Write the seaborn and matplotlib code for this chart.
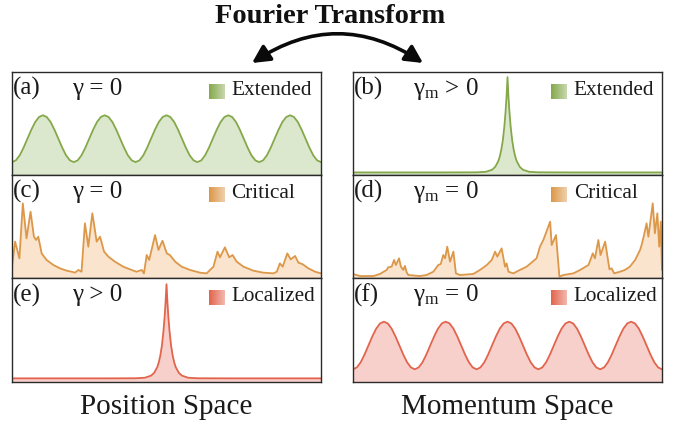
import numpy as np
import pandas as pd
import matplotlib
matplotlib.use("Agg")
import matplotlib.pyplot as plt
import seaborn as sns
from matplotlib.patches import FancyArrowPatch
from matplotlib.colors import to_rgb

# ---------------- data ----------------
# (a) extended, position space (gamma = 0)
wave_a = [0.125, 0.142, 0.191, 0.266, 0.353, 0.439, 0.514, 0.563, 0.580, 0.563, 0.514, 0.439, 0.353, 0.266, 0.191, 0.142,
          0.125, 0.142, 0.191, 0.266, 0.353, 0.439, 0.514, 0.563, 0.580, 0.563, 0.514, 0.439, 0.353, 0.266, 0.191, 0.142,
          0.125, 0.142, 0.191, 0.266, 0.353, 0.439, 0.514, 0.563, 0.580, 0.563, 0.514, 0.439, 0.353, 0.266, 0.191, 0.142,
          0.125, 0.142, 0.191, 0.266, 0.353, 0.439, 0.514, 0.563, 0.580, 0.563, 0.514, 0.439, 0.353, 0.266, 0.191, 0.142,
          0.125, 0.142, 0.191, 0.266, 0.353, 0.439, 0.514, 0.563, 0.580, 0.563, 0.514, 0.439, 0.353, 0.266, 0.191, 0.142,
          0.125]
# (f) localized, momentum space (gamma_m = 0)
wave_f = [0.122, 0.140, 0.190, 0.265, 0.352, 0.438, 0.513, 0.563, 0.580, 0.563, 0.513, 0.438, 0.352, 0.265, 0.190, 0.140,
          0.122, 0.140, 0.190, 0.265, 0.352, 0.438, 0.513, 0.563, 0.580, 0.563, 0.513, 0.438, 0.352, 0.265, 0.190, 0.140,
          0.122, 0.140, 0.190, 0.265, 0.352, 0.438, 0.513, 0.563, 0.580, 0.563, 0.513, 0.438, 0.352, 0.265, 0.190, 0.140,
          0.122, 0.140, 0.190, 0.265, 0.352, 0.438, 0.513, 0.563, 0.580, 0.563, 0.513, 0.438, 0.352, 0.265, 0.190, 0.140,
          0.122, 0.140, 0.190, 0.265, 0.352, 0.438, 0.513, 0.563, 0.580, 0.563, 0.513, 0.438, 0.352, 0.265, 0.190, 0.140,
          0.122]

# sharp peaks: (b) extended in momentum space, (e) localized in position space
peak_x = [0.0, 0.1, 0.2, 0.3, 0.4, 0.43, 0.45, 0.46, 0.47, 0.475, 0.48, 0.485, 0.49, 0.494, 0.497, 0.5,
          0.503, 0.506, 0.51, 0.515, 0.52, 0.525, 0.53, 0.54, 0.55, 0.57, 0.6, 0.7, 0.8, 0.9, 1.0]
peak_b = [0.025, 0.025, 0.025, 0.025, 0.026, 0.031, 0.051, 0.078, 0.133, 0.179, 0.246, 0.340, 0.476, 0.624, 0.767, 0.95,
          0.767, 0.624, 0.476, 0.340, 0.246, 0.179, 0.133, 0.078, 0.051, 0.031, 0.026, 0.025, 0.025, 0.025, 0.025]
peak_e = [0.035, 0.035, 0.035, 0.035, 0.036, 0.041, 0.061, 0.088, 0.142, 0.188, 0.254, 0.347, 0.482, 0.628, 0.768, 0.94,
          0.768, 0.628, 0.482, 0.347, 0.254, 0.188, 0.142, 0.088, 0.061, 0.041, 0.036, 0.035, 0.035, 0.035, 0.035]

# (c) critical, position space
crit_c_x = [0.0, 0.010, 0.024, 0.035, 0.047, 0.060, 0.071, 0.078, 0.085, 0.096, 0.112, 0.134, 0.155, 0.177, 0.193,
            0.204, 0.215, 0.225, 0.236, 0.247, 0.260, 0.274, 0.285, 0.298, 0.312, 0.333, 0.360, 0.387, 0.403, 0.420,
            0.427, 0.436, 0.444, 0.463, 0.474, 0.487, 0.501, 0.511, 0.528, 0.549, 0.576, 0.608, 0.630, 0.641, 0.652,
            0.665, 0.673, 0.689, 0.703, 0.714, 0.727, 0.749, 0.781, 0.813, 0.846, 0.857, 0.867, 0.876, 0.891, 0.902,
            0.916, 0.927, 0.941, 0.959, 0.981, 1.0]
crit_c_y = [0.110, 0.353, 0.191, 0.725, 0.385, 0.644, 0.401, 0.369, 0.401, 0.239, 0.175, 0.126, 0.094, 0.071, 0.061,
            0.052, 0.078, 0.061, 0.531, 0.304, 0.628, 0.353, 0.401, 0.256, 0.207, 0.159, 0.110, 0.078, 0.061, 0.078,
            0.045, 0.223, 0.175, 0.417, 0.272, 0.362, 0.239, 0.223, 0.159, 0.110, 0.078, 0.052, 0.045, 0.078, 0.110,
            0.256, 0.201, 0.298, 0.201, 0.223, 0.159, 0.110, 0.071, 0.052, 0.045, 0.061, 0.142, 0.110, 0.239, 0.181,
            0.214, 0.149, 0.133, 0.094, 0.061, 0.045]

# (d) critical, momentum space
crit_d_x = [0.0, 0.023, 0.066, 0.087, 0.109, 0.114, 0.125, 0.133, 0.139, 0.149, 0.155, 0.163, 0.168, 0.174, 0.179,
            0.217, 0.238, 0.260, 0.276, 0.284, 0.292, 0.298, 0.305, 0.314, 0.325, 0.333, 0.346, 0.389, 0.411, 0.433,
            0.449, 0.460, 0.467, 0.481, 0.492, 0.497, 0.503, 0.519, 0.540, 0.562, 0.594, 0.605, 0.616, 0.638, 0.643,
            0.657, 0.668, 0.681, 0.713, 0.735, 0.762, 0.776, 0.783, 0.794, 0.801, 0.816, 0.830, 0.837, 0.845, 0.864,
            0.880, 0.896, 0.913, 0.929, 0.934, 0.942, 0.950, 0.956, 0.970, 0.977, 0.985, 0.991, 0.996, 1.0]
crit_d_y = [0.039, 0.019, 0.019, 0.039, 0.078, 0.104, 0.110, 0.175, 0.126, 0.191, 0.110, 0.078, 0.117, 0.052, 0.029,
            0.019, 0.029, 0.061, 0.126, 0.136, 0.223, 0.191, 0.304, 0.159, 0.256, 0.045, 0.029, 0.039, 0.078, 0.126,
            0.175, 0.256, 0.207, 0.288, 0.110, 0.142, 0.061, 0.045, 0.078, 0.110, 0.191, 0.304, 0.369, 0.547, 0.320,
            0.417, 0.013, 0.029, 0.045, 0.078, 0.126, 0.239, 0.191, 0.369, 0.223, 0.353, 0.084, 0.094, 0.045, 0.061,
            0.078, 0.110, 0.175, 0.272, 0.320, 0.417, 0.531, 0.401, 0.725, 0.434, 0.628, 0.304, 0.547, 0.078]

panel_letters = ["(a)", "(b)", "(c)", "(d)", "(e)", "(f)"]
panel_params = ["γ = 0", "γ$_\\mathrm{m}$ > 0", "γ = 0", "γ$_\\mathrm{m}$ = 0", "γ > 0", "γ$_\\mathrm{m}$ = 0"]
phase_labels = ["Extended", "Extended", "Critical", "Critical", "Localized", "Localized"]
column_titles = ["Position Space", "Momentum Space"]
top_title = "Fourier Transform"

wave_pos = np.arange(len(wave_a)) / (len(wave_a) - 1)

# ---------------- style ----------------
sns.set_theme(style="white")
plt.rcParams["font.family"] = ["Liberation Serif", "DejaVu Serif"]
plt.rcParams["mathtext.fontset"] = "custom"
plt.rcParams["mathtext.rm"] = "Liberation Serif"
plt.rcParams["mathtext.it"] = "Liberation Serif"

GREEN = ("#84a84a", "#dce8cd")
ORANGE = ("#dc9748", "#fae4cd")
RED = ("#e2644c", "#f7d0cb")

panels = [
    (wave_pos, wave_a, GREEN),
    (peak_x, peak_b, GREEN),
    (crit_c_x, crit_c_y, ORANGE),
    (crit_d_x, crit_d_y, ORANGE),
    (peak_x, peak_e, RED),
    (wave_pos, wave_f, RED),
]

W, H = 681, 423
fig = plt.figure(figsize=(W / 100, H / 100), dpi=100)
fig.patch.set_facecolor("white")

col_left = [12, 353]
col_w = 309
row_tops = [72, 175, 278]
row_bots = [175, 278, 382]

for i, (xs, ys, (lc, fc)) in enumerate(panels):
    r, c = divmod(i, 2)
    left = col_left[c] / W
    bottom = 1 - row_bots[r] / H
    height = (row_bots[r] - row_tops[r]) / H
    ax = fig.add_axes([left, bottom, col_w / W, height])
    df = pd.DataFrame({"x": xs, "y": ys})
    ax.fill_between(df["x"], df["y"], 0, color=fc, lw=0, zorder=1)
    sns.lineplot(data=df, x="x", y="y", ax=ax, color=lc, lw=1.3, zorder=2, sort=False)
    # gradient legend square
    c0 = np.array(to_rgb(lc))
    c1 = np.array([1.0, 1.0, 1.0]) * 0.55 + c0 * 0.45
    t = np.linspace(0, 1, 40)[:, None]
    grad = (c0[None, :] * (1 - t) + c1[None, :] * t)[None, :, :]
    px0 = 0.636 if c == 0 else 0.641
    ax.imshow(grad, extent=(px0, px0 + 0.049, 0.738, 0.874), aspect="auto", zorder=5,
              interpolation="bilinear")
    ax.set_xlim(0, 1)
    ax.set_ylim(0, 1)
    ax.set_xticks([])
    ax.set_yticks([])
    ax.set_xlabel("")
    ax.set_ylabel("")
    ax.set_facecolor("white")
    for s in ax.spines.values():
        s.set_color("#2a2a2a")
        s.set_linewidth(1.0)
    ax.text(0.003, 0.777, panel_letters[i], transform=ax.transAxes, fontsize=18,
            ha="left", va="baseline", color="#1a1a1a")
    ax.text(0.194, 0.777, panel_params[i], transform=ax.transAxes, fontsize=18,
            ha="left", va="baseline", color="#1a1a1a")
    ax.text(px0 + 0.073, 0.777, phase_labels[i], transform=ax.transAxes, fontsize=15.3,
            ha="left", va="baseline", color="#1a1a1a")

for c, title in enumerate(column_titles):
    fig.text((col_left[c] + col_w / 2) / W, 1 - 413.5 / H, title, fontsize=21,
             ha="center", va="baseline", color="#1a1a1a")

fig.text(330 / W, 1 - 22.7 / H, top_title, fontsize=20.5, fontweight="bold",
         ha="center", va="baseline", color="#111111")

arrow = FancyArrowPatch((252 / W, 1 - 63 / H), (423 / W, 1 - 63 / H),
                        transform=fig.transFigure,
                        connectionstyle="arc3,rad=-0.33",
                        arrowstyle="<|-|>,head_length=0.7,head_width=0.36",
                        mutation_scale=15, lw=2.6, color="#0a0a0a",
                        shrinkA=0, shrinkB=0)
fig.patches.append(arrow)

fig.savefig("out.png", dpi=100, facecolor="white")
